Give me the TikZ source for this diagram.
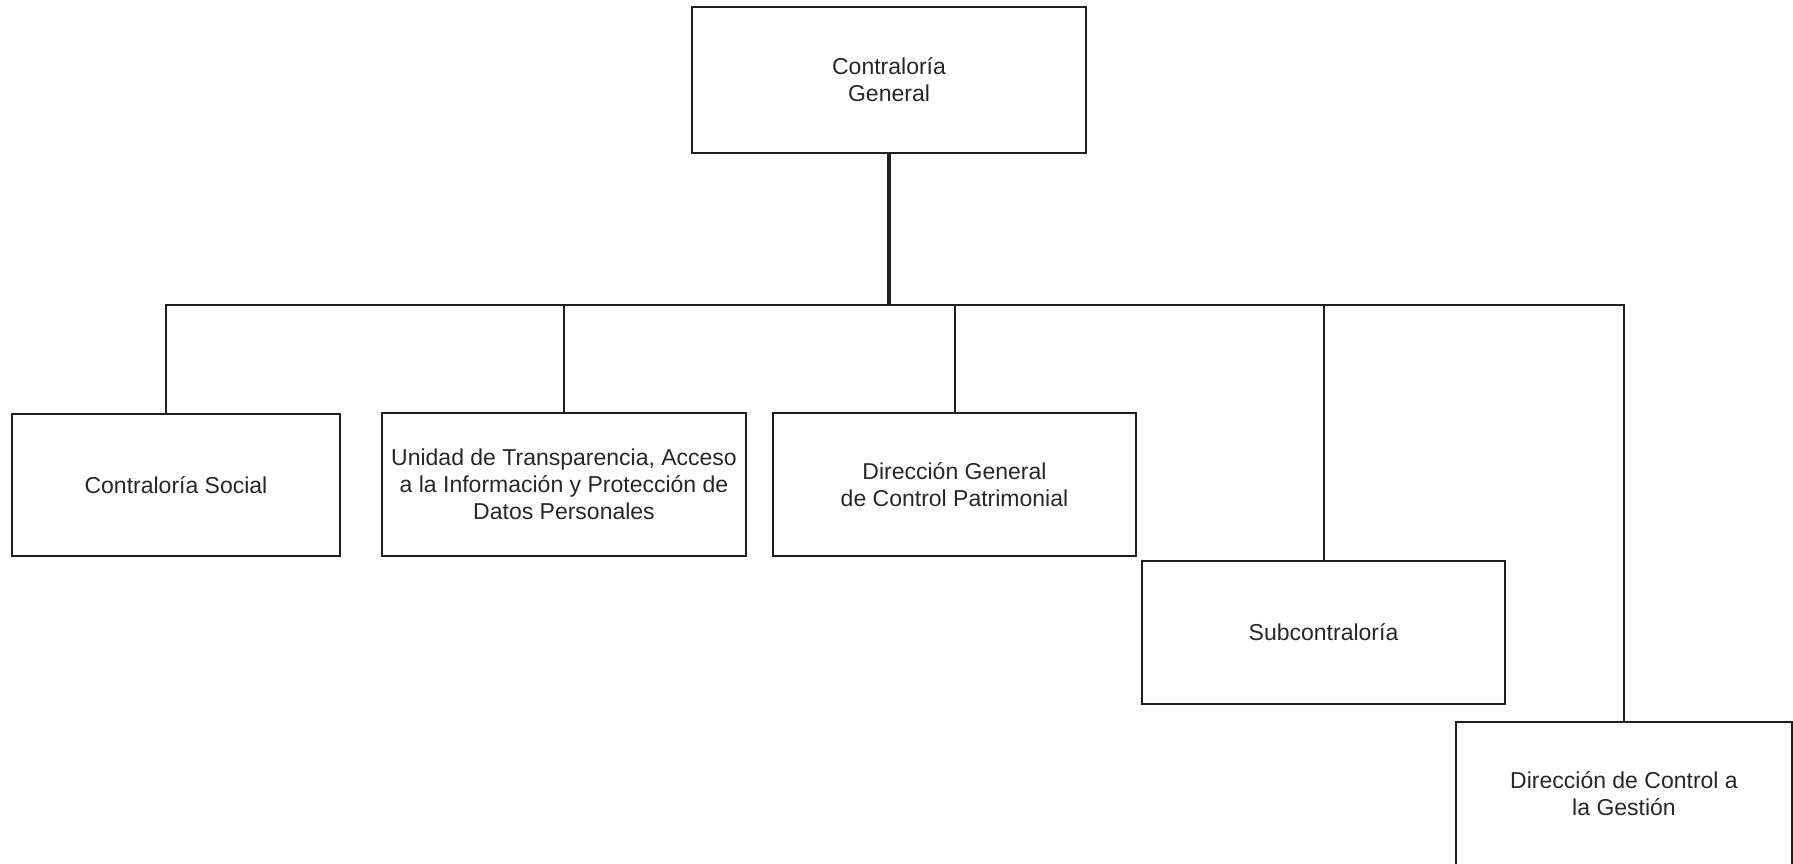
\documentclass[tikz,border=0pt]{standalone}
\usepackage{fontspec}
\setmainfont{Liberation Sans}
\begin{document}
\begin{tikzpicture}[x=0.5pt,y=-0.5pt,
  ink/.style={draw=black!88, line width=1pt},
  unitbox/.style={ink, rectangle, align=center, inner sep=0pt,
    text=black!85, font=\fontsize{11.5pt}{13.6pt}\selectfont},
  link/.style={ink},
  trunk/.style={draw=black!88, line width=2pt}]
  \useasboundingbox (0,0) rectangle (1793,863);

  % head of the organisation
  \node[unitbox, minimum width=197pt, minimum height=73pt] (cg) at (889,80)
    {Contraloría\\General};

  % first level units
  \node[unitbox, minimum width=164pt, minimum height=71pt] (cs) at (176,485)
    {Contraloría Social};
  \node[unitbox, minimum width=182pt, minimum height=71.5pt] (ut) at (564,484.5)
    {Unidad de Transparencia, Acceso\\a la Información y Protección de\\Datos Personales};
  \node[unitbox, minimum width=181.5pt, minimum height=71.5pt] (dg) at (954.5,484.5)
    {Dirección General\\de Control Patrimonial};
  \node[unitbox, minimum width=181.5pt, minimum height=71.5pt] (sc) at (1323.5,632.5)
    {Subcontraloría};
  \node[unitbox, minimum width=168pt, minimum height=71.5pt] (dc) at (1624,793.5)
    {Dirección de Control a\\la Gestión};

  % distribution line
  \coordinate (bus) at (0,305);
  \coordinate (csin) at (166,414);

  \draw[trunk] (cg.south) -- (cg.south |- bus);
  \draw[link] (csin) -- (csin |- bus) -- (dc.north |- bus) -- (dc.north);
  \draw[link] (ut.north) -- (ut.north |- bus);
  \draw[link] (dg.north) -- (dg.north |- bus);
  \draw[link] (sc.north) -- (sc.north |- bus);
\end{tikzpicture}
\end{document}
